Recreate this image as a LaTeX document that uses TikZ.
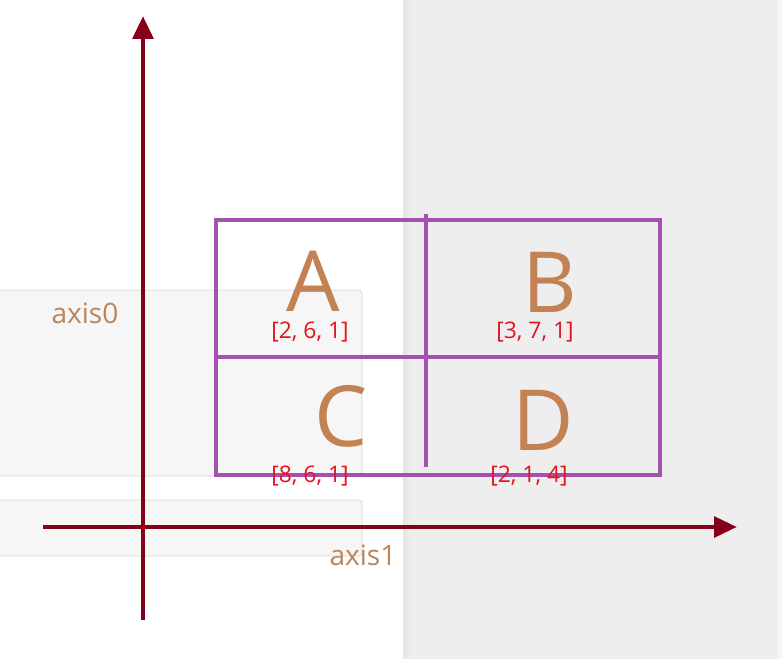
\documentclass[tikz,border=0pt]{standalone}
\usepackage{fontspec}
\setmainfont{Open Sans}
\usetikzlibrary{arrows.meta, positioning}
\definecolor{caxis}{HTML}{86001A}
\definecolor{cgrid}{HTML}{A352B0}
\definecolor{cletter}{HTML}{C38253}
\definecolor{cval}{HTML}{E3141E}
\definecolor{cname}{HTML}{B8875F}
\definecolor{cpane}{HTML}{EEEEEE}
\definecolor{cpanel}{HTML}{F6F6F6}
\definecolor{cedge}{HTML}{D6D6D6}
\tikzset{
  axisline/.style={-{Triangle[length=13pt, width=11.5pt]}, draw=caxis, line width=2.8pt},
  gridline/.style={draw=cgrid, line width=2.8pt},
  panel/.style={fill=cpanel, draw=cedge, line width=0.5pt, rounded corners=2pt},
  cell/.style={text=cletter, font=\fontsize{48}{48}\selectfont, inner sep=0pt},
  val/.style={text=cval, font=\fontsize{13}{13}\selectfont, inner sep=0pt},
  axisname/.style={text=cname, font=\fontsize{16}{16}\selectfont, inner sep=0pt},
}
\begin{document}
\begin{tikzpicture}[x=0.02cm, y=-0.02cm]
  \useasboundingbox (0,0) rectangle (782,659);
  % page and side pane
  \fill[white] (0,0) rectangle (403,659);
  \fill[cpane] (403,0) rectangle (782,659);
  \shade[left color=black!10, right color=cpane] (403,0) rectangle (411,659);
  \fill[white!97!black] (778,0) rectangle (782,659);
  % panels behind
  \draw[panel] (-10,290) rectangle (362,476);
  \draw[panel] (-10,500) rectangle (362,556);
  % axes
  \coordinate (ybot) at (143,620); \coordinate (ytop) at (143,16);
  \coordinate (xleft) at (43,527); \coordinate (xright) at (737,527);
  \draw[axisline] (ybot) -- (ytop);
  \draw[axisline] (xleft) -- (xright);
  \node[axisname] (ax0) at (85,313) {axis0};
  \node[axisname] (ax1) at (363,555) {axis1};
  % the 2x2 blocks
  \coordinate (nw) at (216,220); \coordinate (se) at (660,475);
  \draw[gridline] (nw) rectangle (se);
  \draw[gridline] (216,357) -- (660,357);
  \draw[gridline] (426,214) -- (426,467);
  \node[cell] (A) at (313,281) {A};
  \node[cell] (B) at (550,282) {B};
  \node[cell] (C) at (341,416) {C};
  \node[cell] (D) at (543,420) {D};
  \node[val] (vA) at (310,332) {[2, 6, 1]};
  \node[val] (vB) at (535,332) {[3, 7, 1]};
  \node[val] (vC) at (310,476) {[8, 6, 1]};
  \node[val] (vD) at (529,476) {[2, 1, 4]};
\end{tikzpicture}
\end{document}
